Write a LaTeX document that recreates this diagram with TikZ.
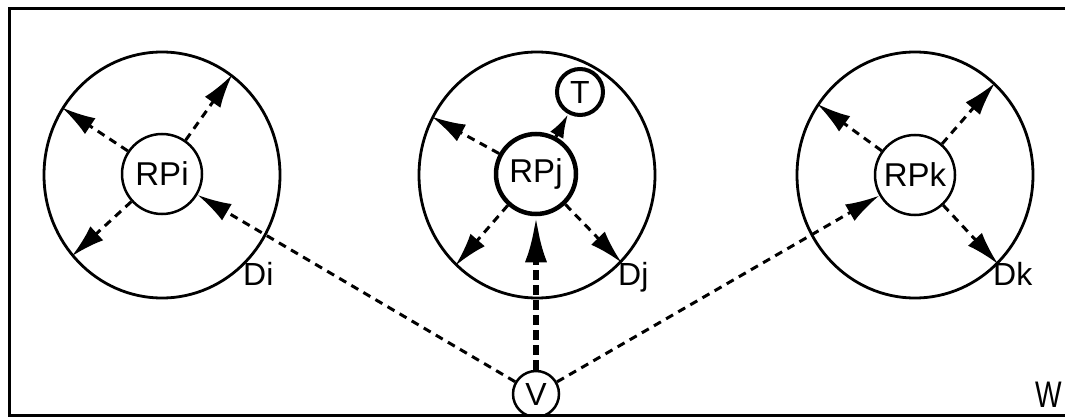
\documentclass[tikz,border=0pt]{standalone}
\usepackage{fontspec}
\setmainfont{Liberation Sans}
\usetikzlibrary{arrows.meta,shapes.geometric}
\begin{document}
\begin{tikzpicture}[x=1pt,y=-1pt,
  zone/.style={ellipse,draw,line width=2.8pt,minimum width=236pt,minimum height=246pt,inner sep=0pt},
  rp/.style={circle,draw,line width=2.5pt,minimum size=80pt,inner sep=0pt,font=\fontsize{33}{33}\selectfont},
  small/.style={circle,draw,line width=2.5pt,minimum size=46pt,inner sep=0pt,font=\fontsize{32}{32}\selectfont},
  lbl/.style={anchor=base west,inner sep=0pt,font=\fontsize{32}{32}\selectfont},
  msg/.style={line width=3pt,dash pattern=on 8pt off 6pt,-{Latex[length=34pt,width=19pt]}},
  bigmsg/.style={line width=6pt,dash pattern=on 10pt off 5pt,-{Latex[length=46pt,width=22pt]}},
  solidmsg/.style={line width=3.5pt,-{Latex[length=24pt,width=15pt]}}]
\useasboundingbox (0,0) rectangle (1065,417);

% open frame (no right edge)
\draw[line width=3pt] (1065,9) -- (9,9) -- (9,415) -- (1065,415);

% regions and rendezvous points
\node[zone] (di) at (162,175) {};
\node[zone] (dj) at (537,175) {};
\node[zone] (dk) at (915,175) {};
\node[rp] (rpi) at (162,174) {RPi};
\node[rp,line width=4.5pt] (rpj) at (536,174) {RPj};
\node[rp] (rpk) at (915,175) {RPk};
\node[small,line width=4pt] (t) at (580,92) {T};
\node[small] (v) at (536,394) {V};

% labels
\node[lbl] (li) at (243,285) {Di};
\node[lbl] (lj) at (618,285) {Dj};
\node[lbl] (lk) at (993,285) {Dk};
\node[lbl,font=\fontsize{37}{37}\selectfont] (w) at (1035,407) {\scalebox{0.76}[1]{W}};

% propagation inside Di
\draw[msg] (rpi.55) -- (di.55);
\draw[msg] (rpi.146) -- (di.146);
\draw[msg] (rpi.222) -- (di.222);

% propagation inside Dj
\draw[msg] (rpj.151) -- (dj.151);
\draw[msg] (rpj.228) -- (dj.228);
\draw[msg] (rpj.-46) -- (dj.-46);
\draw[solidmsg] (rpj) -- (t);

% propagation inside Dk
\draw[msg] (rpk.144) -- (dk.144);
\draw[msg] (rpk.49) -- (dk.49);
\draw[msg] (rpk.-47) -- (dk.-47);

% requests from V
\draw[msg] (v) -- (rpi);
\draw[msg] (v) -- (rpk);
\draw[bigmsg] (v) -- (rpj);
\end{tikzpicture}
\end{document}
